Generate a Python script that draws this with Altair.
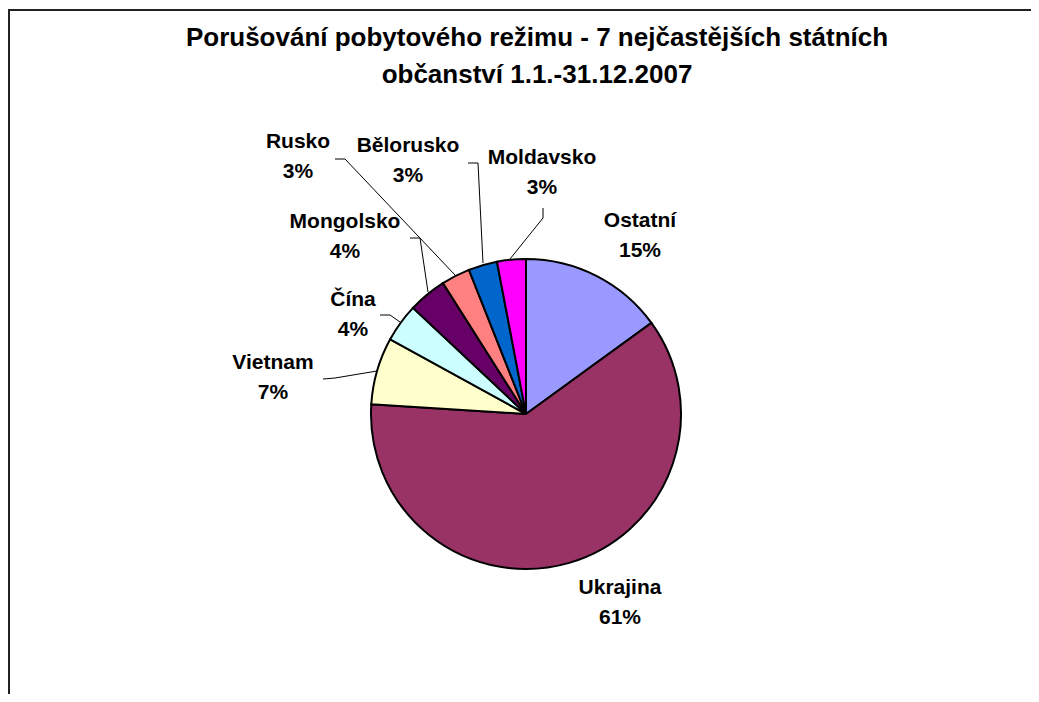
import altair as alt
import pandas as pd

# ---- data ----
countries = ["Ostatní", "Ukrajina", "Vietnam", "Čína", "Mongolsko", "Rusko", "Bělorusko", "Moldavsko"]
shares = [15, 61, 7, 4, 4, 3, 3, 3]
colors = ["#9999FF", "#993366", "#FFFFCC", "#CCFFFF", "#660066", "#FF8080", "#0066CC", "#FF00FF"]
title_lines = ["Porušování pobytového režimu - 7 nejčastějších státních",
               "občanství 1.1.-31.12.2007"]

# ---- layout (page pixels; page margin is 8px) ----
M = 8
W, H = 1039 - 2 * M, 702 - 2 * M
CX, CY, R = 526 - M, 414 - M, 155
FONT = "Liberation Sans"

# position of the first label line (name); percentage goes one line below
label_anchor = {
    "Ostatní": (640, 221), "Ukrajina": (620, 588), "Vietnam": (273, 363),
    "Čína": (353, 300), "Mongolsko": (345, 222), "Rusko": (298, 142),
    "Bělorusko": (408, 146), "Moldavsko": (542, 158),
}
leaders = {
    "Moldavsko": [(543, 208), (543, 218), (510, 259)],
    "Bělorusko": [(468, 163), (478, 163), (483, 263)],
    "Rusko": [(335, 159), (345, 159), (455, 275)],
    "Mongolsko": [(410, 238), (420, 238), (428, 292)],
    "Čína": [(380, 315), (390, 315), (400, 322)],
    "Vietnam": [(323, 379), (335, 378), (377, 371)],
}

pie_df = pd.DataFrame({"country": countries, "share": shares, "idx": range(len(countries))})

lab_df = pd.DataFrame({
    "label": [f"{c}\n{s}%" for c, s in zip(countries, shares)],
    "lx": [label_anchor[c][0] - M for c in countries],
    "ly": [label_anchor[c][1] - M for c in countries],
})

rows = []
for c, pts in leaders.items():
    for i, (px, py) in enumerate(pts):
        rows.append({"seg": c, "ord": i, "x": px - M, "y": py - M})
lead_df = pd.DataFrame(rows)

title_df = pd.DataFrame({"t": title_lines, "tx": [537 - M, 537 - M], "ty": [38 - M, 75 - M]})

frame_df = pd.DataFrame({"x": [1, 1, W + 20], "y": [H + 20, 2, 2], "o": [0, 1, 2]})

pie = alt.Chart(pie_df).mark_arc(outerRadius=R, stroke="black", strokeWidth=2).encode(
    theta=alt.Theta("share:Q", stack=True),
    order=alt.Order("idx:Q"),
    color=alt.Color("country:N", scale=alt.Scale(domain=countries, range=colors), legend=None),
    x=alt.value(CX), y=alt.value(CY),
)

lines = alt.Chart(lead_df).mark_line(color="black", strokeWidth=1).encode(
    x=alt.X("x:Q", scale=None, axis=None),
    y=alt.Y("y:Q", scale=None, axis=None),
    detail="seg:N", order="ord:Q",
)

labels = alt.Chart(lab_df).mark_text(
    font=FONT, fontSize=21, fontWeight="bold", lineBreak="\n", lineHeight=30,
    align="center", baseline="middle", color="black",
).encode(
    x=alt.X("lx:Q", scale=None, axis=None),
    y=alt.Y("ly:Q", scale=None, axis=None),
    text="label:N",
)

title = alt.Chart(title_df).mark_text(
    font=FONT, fontSize=26, fontWeight="bold", align="center", baseline="middle", color="black",
).encode(
    x=alt.X("tx:Q", scale=None, axis=None),
    y=alt.Y("ty:Q", scale=None, axis=None),
    text="t:N",
)

frame = alt.Chart(frame_df).mark_line(color="#222222", strokeWidth=2).encode(
    x=alt.X("x:Q", scale=None, axis=None),
    y=alt.Y("y:Q", scale=None, axis=None),
    order="o:Q",
)

chart = alt.layer(frame, pie, lines, labels, title).properties(
    width=W, height=H, autosize="none", padding=0,
).configure_view(stroke=None)

chart.save("out.html", embed_options={"renderer": "svg", "actions": False})
